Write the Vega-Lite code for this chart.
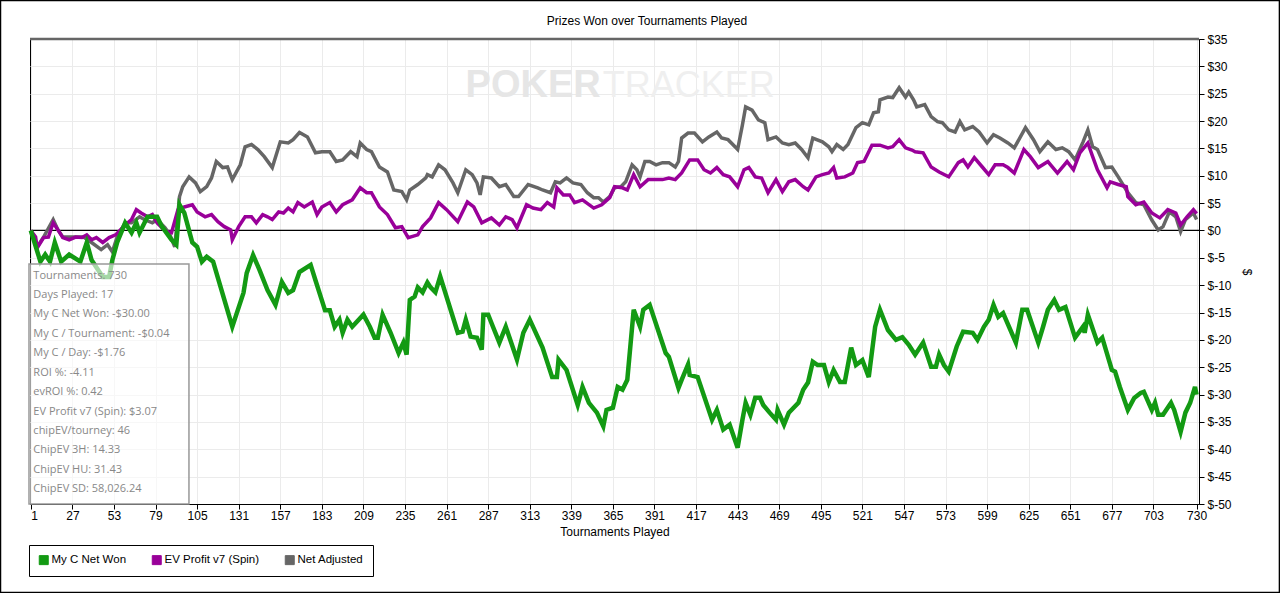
{
  "$schema": "https://vega.github.io/schema/vega-lite/v6.json",
  "width": 1169,
  "height": 465,
  "autosize": {"type": "none"},
  "padding": {"left": 30, "top": 39, "right": 81, "bottom": 89},
  "background": "white",
  "config": {
    "view": {"stroke": "#000", "strokeWidth": 1},
    "axis": {
      "labelFont": "Liberation Sans",
      "labelFontSize": 12,
      "labelColor": "#000",
      "titleFont": "Liberation Sans",
      "titleFontSize": 12,
      "titleFontWeight": "normal",
      "titleColor": "#000",
      "domainColor": "#000",
      "tickColor": "#000",
      "tickSize": 5,
      "gridColor": "#ebebeb",
      "labelOverlap": false
    }
  },
  "resolve": {"axis": {"x": "independent", "y": "independent"}},
  "datasets": {
    "green": [
      {"t":1,"v":0},{"t":7,"v":-5.7},{"t":10,"v":-4.4},{"t":13,"v":-5.7},{"t":16,"v":-2.2},{"t":20,"v":-5.7},{"t":25,"v":-4.4},{"t":32,"v":-5.7},{"t":36,"v":-2.2},{"t":39,"v":-5.4},{"t":46,"v":-8.5},{"t":50,"v":-8.5},{"t":52,"v":-5.4},{"t":55,"v":-2.2},{"t":60,"v":1.4},{"t":64,"v":-0.4},{"t":67,"v":1.4},{"t":69,"v":-0.4},{"t":74,"v":2.5},{"t":80,"v":2.5},{"t":83,"v":0.7},{"t":89,"v":-1.7},{"t":92,"v":-2.6},{"t":94,"v":4.7},{"t":97,"v":3.2},{"t":102,"v":-2.2},{"t":105,"v":-3.0},{"t":108,"v":-5.7},{"t":111,"v":-4.8},{"t":115,"v":-5.7},{"t":127,"v":-17.6},{"t":134,"v":-11.4},{"t":136,"v":-7.8},{"t":140,"v":-4.5},{"t":144,"v":-7.2},{"t":149,"v":-10.9},{"t":154,"v":-13.6},{"t":158,"v":-9.4},{"t":162,"v":-11.4},{"t":165,"v":-10.9},{"t":169,"v":-7.6},{"t":176,"v":-6.3},{"t":179,"v":-9.1},{"t":185,"v":-14.6},{"t":188,"v":-14.6},{"t":191,"v":-17.6},{"t":194,"v":-16.3},{"t":196,"v":-18.7},{"t":199,"v":-16.3},{"t":202,"v":-17.6},{"t":209,"v":-15.4},{"t":213,"v":-17.6},{"t":216,"v":-19.6},{"t":218,"v":-19.6},{"t":221,"v":-15.4},{"t":226,"v":-18.7},{"t":231,"v":-22.4},{"t":234,"v":-20.5},{"t":236,"v":-22.7},{"t":238,"v":-12.7},{"t":241,"v":-12.1},{"t":243,"v":-10.4},{"t":246,"v":-11.3},{"t":249,"v":-9.5},{"t":251,"v":-10.4},{"t":254,"v":-11.3},{"t":257,"v":-8.4},{"t":268,"v":-18.7},{"t":271,"v":-18.5},{"t":273,"v":-16.3},{"t":276,"v":-19.4},{"t":280,"v":-19.6},{"t":283,"v":-21.8},{"t":284,"v":-15.4},{"t":287,"v":-15.4},{"t":290,"v":-17.6},{"t":294,"v":-20.5},{"t":298,"v":-17.6},{"t":305,"v":-23.6},{"t":309,"v":-18.7},{"t":313,"v":-16.3},{"t":321,"v":-21.4},{"t":327,"v":-26.8},{"t":330,"v":-26.8},{"t":331,"v":-23.6},{"t":336,"v":-25.5},{"t":343,"v":-31.9},{"t":346,"v":-28.6},{"t":350,"v":-31.5},{"t":355,"v":-33.3},{"t":359,"v":-35.8},{"t":361,"v":-32.8},{"t":365,"v":-32.4},{"t":368,"v":-28.6},{"t":371,"v":-29.1},{"t":374,"v":-27.3},{"t":378,"v":-14.5},{"t":382,"v":-17.6},{"t":384,"v":-14.5},{"t":388,"v":-13.6},{"t":398,"v":-22.4},{"t":400,"v":-23.1},{"t":406,"v":-28.8},{"t":408,"v":-27.3},{"t":412,"v":-24.5},{"t":413,"v":-26.4},{"t":418,"v":-26.8},{"t":427,"v":-34.6},{"t":430,"v":-32.8},{"t":434,"v":-36.4},{"t":438,"v":-35.5},{"t":443,"v":-39.7},{"t":446,"v":-34.6},{"t":448,"v":-31.5},{"t":451,"v":-33.7},{"t":454,"v":-30.6},{"t":457,"v":-30.6},{"t":459,"v":-31.9},{"t":463,"v":-33.3},{"t":467,"v":-34.6},{"t":468,"v":-32.8},{"t":472,"v":-35.5},{"t":475,"v":-33.3},{"t":478,"v":-32.4},{"t":481,"v":-31.5},{"t":484,"v":-29.1},{"t":487,"v":-27.8},{"t":490,"v":-24.0},{"t":493,"v":-24.6},{"t":497,"v":-24.6},{"t":500,"v":-27.7},{"t":503,"v":-25.5},{"t":507,"v":-27.7},{"t":510,"v":-27.7},{"t":514,"v":-21.4},{"t":517,"v":-24.6},{"t":521,"v":-23.7},{"t":525,"v":-26.8},{"t":529,"v":-17.6},{"t":532,"v":-14.5},{"t":537,"v":-18.2},{"t":542,"v":-20.0},{"t":546,"v":-19.5},{"t":550,"v":-20.9},{"t":554,"v":-22.7},{"t":559,"v":-20.5},{"t":564,"v":-24.9},{"t":567,"v":-24.9},{"t":569,"v":-22.7},{"t":572,"v":-24.6},{"t":575,"v":-25.8},{"t":580,"v":-21.2},{"t":584,"v":-18.5},{"t":590,"v":-18.7},{"t":593,"v":-20.0},{"t":597,"v":-17.6},{"t":600,"v":-16.3},{"t":603,"v":-13.6},{"t":606,"v":-15.8},{"t":609,"v":-15.1},{"t":617,"v":-20.5},{"t":621,"v":-14.5},{"t":624,"v":-14.5},{"t":631,"v":-20.5},{"t":634,"v":-17.6},{"t":637,"v":-14.5},{"t":641,"v":-12.7},{"t":644,"v":-14.5},{"t":648,"v":-14.0},{"t":654,"v":-19.6},{"t":659,"v":-17.6},{"t":660,"v":-18.7},{"t":662,"v":-15.4},{"t":668,"v":-20.5},{"t":671,"v":-19.6},{"t":677,"v":-25.5},{"t":679,"v":-25.8},{"t":682,"v":-28.6},{"t":687,"v":-32.8},{"t":691,"v":-30.6},{"t":695,"v":-29.7},{"t":697,"v":-29.5},{"t":702,"v":-32.8},{"t":704,"v":-31.5},{"t":706,"v":-33.7},{"t":709,"v":-33.7},{"t":714,"v":-31.5},{"t":716,"v":-32.8},{"t":720,"v":-36.8},{"t":723,"v":-33.3},{"t":726,"v":-31.5},{"t":729,"v":-28.6},{"t":730,"v":-30.0}
    ],
    "purple": [
      {"t":1,"v":0},{"t":4,"v":-1.2},{"t":5,"v":-3.2},{"t":9,"v":-1.3},{"t":12,"v":-1.2},{"t":15,"v":1.4},{"t":18,"v":0.1},{"t":21,"v":-1.3},{"t":25,"v":-1.7},{"t":29,"v":-1.2},{"t":33,"v":-1.3},{"t":36,"v":-0.8},{"t":39,"v":-1.7},{"t":42,"v":-1.3},{"t":46,"v":-2.2},{"t":50,"v":-1.3},{"t":54,"v":-0.8},{"t":57,"v":0.1},{"t":60,"v":1.0},{"t":64,"v":2.0},{"t":67,"v":3.8},{"t":70,"v":3.2},{"t":74,"v":2.5},{"t":77,"v":2.9},{"t":80,"v":1.4},{"t":83,"v":0.5},{"t":86,"v":-0.2},{"t":89,"v":-0.4},{"t":93,"v":3.8},{"t":97,"v":4.3},{"t":102,"v":4.7},{"t":105,"v":3.4},{"t":110,"v":2.5},{"t":114,"v":2.9},{"t":118,"v":1.6},{"t":122,"v":0.7},{"t":126,"v":0.1},{"t":127,"v":-1.7},{"t":131,"v":0.7},{"t":135,"v":2.5},{"t":139,"v":2.5},{"t":142,"v":1.4},{"t":146,"v":2.9},{"t":149,"v":2.5},{"t":152,"v":2.0},{"t":156,"v":3.4},{"t":159,"v":3.2},{"t":162,"v":4.1},{"t":165,"v":3.4},{"t":168,"v":5.1},{"t":172,"v":4.3},{"t":177,"v":5.2},{"t":180,"v":2.9},{"t":183,"v":4.3},{"t":188,"v":5.1},{"t":192,"v":3.4},{"t":196,"v":4.7},{"t":202,"v":5.6},{"t":207,"v":7.8},{"t":211,"v":6.9},{"t":214,"v":6.9},{"t":219,"v":4.3},{"t":224,"v":2.9},{"t":229,"v":0.5},{"t":233,"v":0.7},{"t":237,"v":-1.3},{"t":243,"v":-0.8},{"t":246,"v":0.7},{"t":251,"v":2.3},{"t":256,"v":5.1},{"t":261,"v":3.8},{"t":268,"v":1.6},{"t":274,"v":5.2},{"t":278,"v":4.3},{"t":283,"v":1.4},{"t":289,"v":2.3},{"t":294,"v":1.0},{"t":298,"v":2.5},{"t":302,"v":2.0},{"t":305,"v":0.5},{"t":311,"v":4.7},{"t":315,"v":4.1},{"t":320,"v":3.8},{"t":324,"v":5.1},{"t":328,"v":4.3},{"t":330,"v":7.8},{"t":334,"v":6.5},{"t":338,"v":6.5},{"t":341,"v":5.1},{"t":346,"v":5.6},{"t":353,"v":4.1},{"t":358,"v":4.7},{"t":363,"v":6.0},{"t":366,"v":8.0},{"t":371,"v":7.8},{"t":374,"v":7.4},{"t":378,"v":10.2},{"t":382,"v":8.0},{"t":387,"v":9.3},{"t":392,"v":9.3},{"t":396,"v":9.3},{"t":400,"v":9.6},{"t":404,"v":9.3},{"t":408,"v":10.5},{"t":413,"v":12.9},{"t":418,"v":12.9},{"t":422,"v":11.1},{"t":426,"v":10.5},{"t":430,"v":11.5},{"t":434,"v":10.2},{"t":438,"v":9.8},{"t":443,"v":8.0},{"t":447,"v":11.1},{"t":450,"v":11.5},{"t":454,"v":9.8},{"t":458,"v":9.6},{"t":462,"v":6.9},{"t":467,"v":9.3},{"t":471,"v":7.1},{"t":475,"v":8.9},{"t":479,"v":9.3},{"t":484,"v":8.0},{"t":487,"v":7.4},{"t":492,"v":9.8},{"t":496,"v":10.2},{"t":500,"v":10.5},{"t":503,"v":11.5},{"t":505,"v":9.6},{"t":510,"v":9.8},{"t":515,"v":10.5},{"t":518,"v":12.4},{"t":522,"v":12.6},{"t":527,"v":15.6},{"t":532,"v":15.6},{"t":537,"v":15.1},{"t":540,"v":15.3},{"t":544,"v":16.6},{"t":548,"v":15.1},{"t":552,"v":14.7},{"t":554,"v":14.4},{"t":559,"v":14.2},{"t":564,"v":11.6},{"t":569,"v":10.7},{"t":575,"v":9.8},{"t":581,"v":12.4},{"t":584,"v":12.9},{"t":587,"v":11.6},{"t":591,"v":13.3},{"t":596,"v":11.6},{"t":600,"v":10.2},{"t":604,"v":12.0},{"t":609,"v":12.0},{"t":612,"v":11.5},{"t":616,"v":10.5},{"t":622,"v":14.8},{"t":626,"v":13.5},{"t":631,"v":11.5},{"t":637,"v":12.6},{"t":643,"v":10.5},{"t":649,"v":12.6},{"t":653,"v":11.1},{"t":657,"v":14.2},{"t":662,"v":16.0},{"t":665,"v":13.5},{"t":668,"v":11.1},{"t":674,"v":7.8},{"t":676,"v":8.9},{"t":681,"v":8.4},{"t":686,"v":8.0},{"t":687,"v":6.2},{"t":692,"v":4.7},{"t":697,"v":5.2},{"t":702,"v":3.2},{"t":707,"v":2.3},{"t":712,"v":3.8},{"t":717,"v":3.2},{"t":720,"v":1.0},{"t":724,"v":2.5},{"t":728,"v":3.8},{"t":730,"v":3.07}
    ],
    "gray": [
      {"t":1,"v":0},{"t":5,"v":-3.0},{"t":9,"v":-1.2},{"t":15,"v":2.0},{"t":18,"v":0.1},{"t":21,"v":-1.2},{"t":29,"v":-1.2},{"t":34,"v":-1.2},{"t":39,"v":-2.2},{"t":45,"v":-3.5},{"t":49,"v":-2.6},{"t":52,"v":-3.9},{"t":55,"v":-1.2},{"t":60,"v":1.4},{"t":64,"v":1.4},{"t":69,"v":2.5},{"t":72,"v":2.0},{"t":77,"v":1.4},{"t":80,"v":2.0},{"t":85,"v":0.5},{"t":88,"v":-0.8},{"t":91,"v":-3.0},{"t":94,"v":6.2},{"t":96,"v":8.0},{"t":100,"v":9.8},{"t":104,"v":8.7},{"t":107,"v":7.1},{"t":111,"v":8.0},{"t":114,"v":9.6},{"t":117,"v":12.6},{"t":121,"v":11.5},{"t":124,"v":11.6},{"t":127,"v":9.3},{"t":132,"v":12.0},{"t":135,"v":15.3},{"t":139,"v":15.7},{"t":143,"v":14.8},{"t":147,"v":13.5},{"t":152,"v":11.5},{"t":157,"v":16.2},{"t":162,"v":16.0},{"t":165,"v":16.6},{"t":169,"v":17.9},{"t":174,"v":17.1},{"t":179,"v":14.2},{"t":183,"v":14.4},{"t":188,"v":14.4},{"t":192,"v":12.6},{"t":196,"v":12.9},{"t":201,"v":14.4},{"t":205,"v":13.5},{"t":207,"v":16.0},{"t":211,"v":14.8},{"t":214,"v":14.4},{"t":219,"v":11.6},{"t":224,"v":10.7},{"t":228,"v":7.4},{"t":233,"v":7.1},{"t":236,"v":5.6},{"t":238,"v":7.4},{"t":243,"v":8.4},{"t":248,"v":9.6},{"t":249,"v":10.2},{"t":252,"v":9.8},{"t":256,"v":12.0},{"t":260,"v":11.1},{"t":265,"v":8.7},{"t":268,"v":6.9},{"t":273,"v":11.1},{"t":277,"v":10.2},{"t":280,"v":8.7},{"t":282,"v":6.5},{"t":284,"v":9.8},{"t":289,"v":9.6},{"t":294,"v":8.0},{"t":298,"v":8.4},{"t":303,"v":6.2},{"t":306,"v":6.2},{"t":312,"v":8.4},{"t":318,"v":7.8},{"t":321,"v":7.4},{"t":326,"v":6.9},{"t":329,"v":8.9},{"t":332,"v":8.7},{"t":336,"v":9.6},{"t":340,"v":8.7},{"t":345,"v":8.4},{"t":349,"v":6.9},{"t":353,"v":6.0},{"t":356,"v":6.0},{"t":359,"v":5.2},{"t":363,"v":6.2},{"t":366,"v":7.8},{"t":370,"v":8.0},{"t":373,"v":8.9},{"t":377,"v":12.0},{"t":380,"v":11.1},{"t":382,"v":9.8},{"t":385,"v":12.6},{"t":388,"v":12.6},{"t":392,"v":12.0},{"t":396,"v":12.4},{"t":400,"v":12.4},{"t":404,"v":11.6},{"t":406,"v":12.6},{"t":408,"v":16.9},{"t":412,"v":17.8},{"t":416,"v":17.8},{"t":421,"v":16.2},{"t":425,"v":17.1},{"t":430,"v":18.0},{"t":433,"v":16.9},{"t":437,"v":16.6},{"t":440,"v":15.7},{"t":443,"v":14.8},{"t":446,"v":19.3},{"t":448,"v":22.6},{"t":452,"v":22.0},{"t":456,"v":20.2},{"t":460,"v":19.7},{"t":462,"v":16.6},{"t":467,"v":17.1},{"t":471,"v":16.0},{"t":475,"v":15.7},{"t":479,"v":16.0},{"t":483,"v":14.8},{"t":487,"v":13.3},{"t":490,"v":16.9},{"t":496,"v":16.2},{"t":500,"v":15.3},{"t":502,"v":14.4},{"t":505,"v":15.7},{"t":509,"v":14.8},{"t":512,"v":15.7},{"t":517,"v":18.8},{"t":521,"v":19.7},{"t":525,"v":19.3},{"t":528,"v":21.5},{"t":531,"v":21.7},{"t":532,"v":23.9},{"t":537,"v":24.4},{"t":540,"v":24.3},{"t":544,"v":26.1},{"t":548,"v":24.4},{"t":550,"v":25.3},{"t":553,"v":23.9},{"t":555,"v":22.6},{"t":560,"v":23.0},{"t":564,"v":20.8},{"t":568,"v":19.9},{"t":571,"v":19.7},{"t":575,"v":18.4},{"t":579,"v":18.0},{"t":582,"v":19.9},{"t":585,"v":18.4},{"t":590,"v":19.0},{"t":594,"v":18.0},{"t":599,"v":16.0},{"t":603,"v":17.5},{"t":607,"v":16.9},{"t":612,"v":16.0},{"t":616,"v":15.1},{"t":623,"v":18.8},{"t":628,"v":16.6},{"t":632,"v":14.4},{"t":637,"v":16.2},{"t":642,"v":14.8},{"t":646,"v":15.1},{"t":650,"v":14.4},{"t":654,"v":12.9},{"t":659,"v":16.2},{"t":662,"v":18.4},{"t":665,"v":15.3},{"t":668,"v":14.8},{"t":673,"v":11.5},{"t":677,"v":11.6},{"t":681,"v":9.8},{"t":687,"v":6.9},{"t":692,"v":5.1},{"t":697,"v":4.7},{"t":702,"v":1.9},{"t":706,"v":0.1},{"t":709,"v":0.7},{"t":713,"v":3.4},{"t":717,"v":2.5},{"t":720,"v":-0.2},{"t":723,"v":2.0},{"t":728,"v":3.2},{"t":730,"v":2.0}
    ],
    "stats": [
      {"label": "Tournaments: 730", "v": -8.27},
      {"label": "Days Played: 17", "v": -11.82},
      {"label": "My C Net Won: -$30.00", "v": -15.36},
      {"label": "My C / Tournament: -$0.04", "v": -18.91},
      {"label": "My C / Day: -$1.76", "v": -22.46},
      {"label": "ROI %: -4.11", "v": -26.0},
      {"label": "evROI %: 0.42", "v": -29.55},
      {"label": "EV Profit v7 (Spin): $3.07", "v": -33.1},
      {"label": "chipEV/tourney: 46", "v": -36.64},
      {"label": "ChipEV 3H: 14.33", "v": -40.19},
      {"label": "ChipEV HU: 31.43", "v": -43.74},
      {"label": "ChipEV SD: 58,026.24", "v": -47.28}
    ]
  },
  "layer": [
    {
      "data": {"name": "gray"},
      "mark": {"type": "line", "strokeWidth": 3.5, "strokeJoin": "miter", "opacity": 0},
      "encoding": {
        "x": {
          "field": "t",
          "type": "quantitative",
          "scale": {"domain": [0.5, 731.5], "nice": false, "zero": false},
          "axis": {
            "title": "Tournaments Played",
            "values": [1, 27, 53, 79, 105, 131, 157, 183, 209, 235, 261, 287, 313, 339, 365, 391, 417, 443, 469, 495, 521, 547, 573, 599, 625, 651, 677, 703, 730],
            "grid": true,
            "labelOverlap": false,
            "labelPadding": 1,
            "titlePadding": 5
          }
        },
        "y": {
          "field": "v",
          "type": "quantitative",
          "scale": {"domain": [-50, 35], "nice": false, "zero": false},
          "axis": {
            "orient": "right",
            "title": "$",
            "titleAngle": 90,
            "titlePadding": 8,
            "values": [-50, -45, -40, -35, -30, -25, -20, -15, -10, -5, 0, 5, 10, 15, 20, 25, 30, 35],
            "labelExpr": "'$' + datum.value",
            "labelOverlap": false,
            "labelFlush": false,
            "grid": true,
            "labelPadding": 3
          }
        }
      }
    },
    {
      "data": {"values": [{}]},
      "mark": {"type": "text", "text": "POKER", "font": "Liberation Sans", "fontSize": 38, "fontWeight": "bold", "color": "#e6e6e6", "align": "right", "baseline": "middle", "dx": -1},
      "encoding": {"x": {"datum": 358, "type": "quantitative", "axis": null}, "y": {"datum": 26.4, "type": "quantitative", "axis": null}}
    },
    {
      "data": {"values": [{}]},
      "mark": {"type": "text", "text": "TRACKER", "font": "Liberation Sans", "fontSize": 36, "color": "#efefef", "align": "left", "baseline": "middle", "dx": 1},
      "encoding": {"x": {"datum": 358, "type": "quantitative", "axis": null}, "y": {"datum": 26.4, "type": "quantitative", "axis": null}}
    },
    {
      "data": {"values": [{}]},
      "mark": {"type": "rule", "color": "#000", "strokeWidth": 1.3},
      "encoding": {"y": {"datum": 0, "type": "quantitative", "axis": null}}
    },
    {
      "data": {"values": [{}]},
      "mark": {"type": "rule", "color": "#666", "strokeWidth": 2.5},
      "encoding": {"y": {"datum": 35, "type": "quantitative", "axis": null}}
    },
    {
      "data": {"name": "gray"},
      "mark": {"type": "line", "strokeWidth": 3.5, "strokeJoin": "miter"},
      "encoding": {
        "x": {"field": "t", "type": "quantitative", "axis": null},
        "y": {"field": "v", "type": "quantitative", "axis": null},
        "color": {
          "datum": "Net Adjusted",
          "type": "nominal",
          "scale": {"domain": ["My C Net Won", "EV Profit v7 (Spin)", "Net Adjusted"], "range": ["#139a13", "#990099", "#666666"]},
          "legend": {
            "orient": "none",
            "legendX": -1,
            "legendY": 506,
            "direction": "horizontal",
            "title": null,
            "symbolType": "square",
            "symbolSize": 81,
            "labelFont": "Liberation Sans",
            "labelFontSize": 11.5,
            "labelColor": "#000",
            "labelOffset": 2,
            "columnPadding": 23,
            "padding": 9,
            "strokeColor": "#000",
            "fillColor": "#fff",
            "encode": {
              "symbols": {
                "update": {
                  "fill": {"scale": "color", "field": "value"},
                  "stroke": {"value": "#222"},
                  "strokeWidth": {"value": 1},
                  "opacity": {"value": 1}
                }
              }
            }
          }
        }
      }
    },
    {
      "data": {"name": "purple"},
      "mark": {"type": "line", "strokeWidth": 3.5, "strokeJoin": "miter"},
      "encoding": {
        "x": {"field": "t", "type": "quantitative", "axis": null},
        "y": {"field": "v", "type": "quantitative", "axis": null},
        "color": {
          "datum": "EV Profit v7 (Spin)",
          "type": "nominal",
          "scale": {"domain": ["My C Net Won", "EV Profit v7 (Spin)", "Net Adjusted"], "range": ["#139a13", "#990099", "#666666"]}
        }
      }
    },
    {
      "data": {"name": "green"},
      "mark": {"type": "line", "strokeWidth": 4.5, "strokeJoin": "miter"},
      "encoding": {
        "x": {"field": "t", "type": "quantitative", "axis": null},
        "y": {"field": "v", "type": "quantitative", "axis": null},
        "color": {
          "datum": "My C Net Won",
          "type": "nominal",
          "scale": {"domain": ["My C Net Won", "EV Profit v7 (Spin)", "Net Adjusted"], "range": ["#139a13", "#990099", "#666666"]}
        }
      }
    },
    {
      "data": {"values": [{}]},
      "mark": {"type": "rect", "fill": "#fff", "fillOpacity": 0.62, "stroke": "#999", "strokeWidth": 1.5},
      "encoding": {
        "x": {"datum": -0.13, "type": "quantitative", "axis": null},
        "x2": {"datum": 99.9},
        "y": {"datum": -6.13, "type": "quantitative", "axis": null},
        "y2": {"datum": -50}
      }
    },
    {
      "data": {"name": "stats"},
      "mark": {"type": "text", "font": "Open Sans", "fontSize": 11, "color": "#888", "align": "left", "baseline": "middle"},
      "encoding": {
        "x": {"datum": 2.6, "type": "quantitative", "axis": null},
        "y": {"field": "v", "type": "quantitative", "axis": null},
        "text": {"field": "label"}
      }
    },
    {
      "data": {"values": [{}]},
      "mark": {"type": "text", "text": "Prizes Won over Tournaments Played", "font": "Liberation Sans", "fontSize": 12, "color": "#000", "align": "center", "baseline": "middle"},
      "encoding": {"x": {"datum": 386.3, "type": "quantitative", "axis": null}, "y": {"datum": 38.29, "type": "quantitative", "axis": null}}
    },
    {
      "data": {"values": [{}]},
      "mark": {"type": "rect", "fillOpacity": 0, "stroke": "#000", "strokeWidth": 1.5},
      "encoding": {
        "x": {"datum": -17.95, "type": "quantitative", "axis": null},
        "x2": {"datum": 781.8},
        "y": {"datum": 42.04, "type": "quantitative", "axis": null},
        "y2": {"datum": -66.18}
      }
    }
  ]
}
